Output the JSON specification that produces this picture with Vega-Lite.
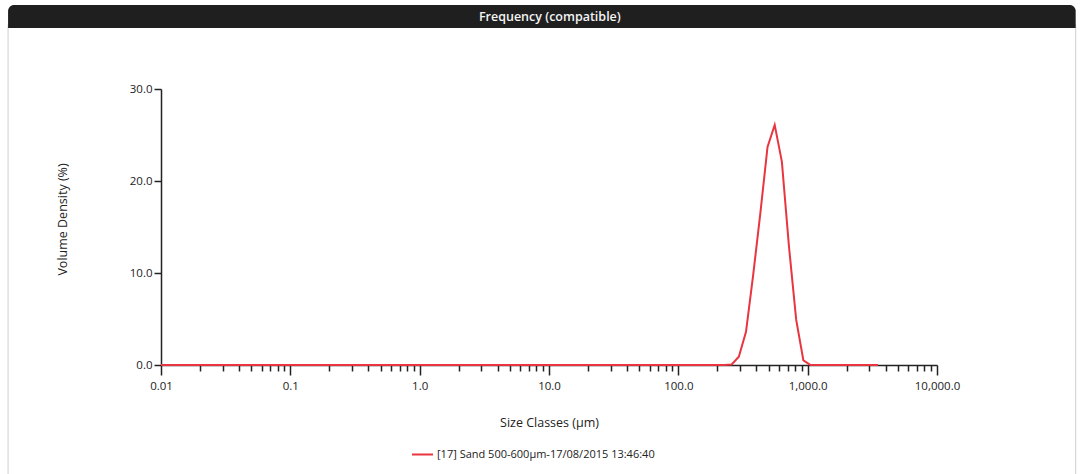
{
  "$schema": "https://vega.github.io/schema/vega-lite/v6.json",
  "width": 776,
  "height": 276,
  "autosize": {"type": "none"},
  "padding": {"left": 161, "top": 89, "right": 147, "bottom": 109},
  "background": "white",
  "config": {
    "font": "Open Sans",
    "view": {"stroke": null},
    "axis": {"grid": false, "domainColor": "#222", "tickColor": "#222", "domainWidth": 1.5, "tickWidth": 1.5, "labelColor": "#222", "titleColor": "#222", "labelFont": "Open Sans", "titleFont": "Open Sans", "titleFontWeight": "normal"}
  },
  "datasets": {
    "psd": [
      {"size": 0.01, "density": 0},
      {"size": 0.1, "density": 0},
      {"size": 1, "density": 0},
      {"size": 10, "density": 0},
      {"size": 100, "density": 0},
      {"size": 227.5, "density": 0},
      {"size": 258.4, "density": 0.05},
      {"size": 293.6, "density": 0.9},
      {"size": 333.6, "density": 3.6},
      {"size": 379.1, "density": 9.8},
      {"size": 430.7, "density": 16.5},
      {"size": 489.4, "density": 23.7},
      {"size": 556.0, "density": 26.1},
      {"size": 631.7, "density": 22.1},
      {"size": 717.7, "density": 12.8},
      {"size": 815.5, "density": 4.9},
      {"size": 926.6, "density": 0.5},
      {"size": 1052.8, "density": 0},
      {"size": 1196, "density": 0},
      {"size": 3500, "density": 0}
    ]
  },
  "layer": [
    {
      "data": {"values": [{}]},
      "mark": {"type": "rect", "filled": false, "stroke": "#cfcfcf", "strokeWidth": 1, "clip": false},
      "encoding": {
        "x": {"datum": 0.000657, "type": "quantitative"},
        "x2": {"datum": 118100},
        "y": {"datum": 37.0, "type": "quantitative"},
        "y2": {"datum": -12}
      }
    },
    {
      "data": {"values": [{}]},
      "mark": {"type": "rect", "fill": "#1f1f1f", "cornerRadiusTopLeft": 6, "cornerRadiusTopRight": 6, "clip": false},
      "encoding": {
        "x": {"datum": 0.000657, "type": "quantitative"},
        "x2": {"datum": 118100},
        "y": {"datum": 39.13, "type": "quantitative"},
        "y2": {"datum": 36.63}
      }
    },
    {
      "data": {"values": [{"label": "Frequency (compatible)"}]},
      "mark": {"type": "text", "color": "#f4f4f4", "fontSize": 12.5, "fontWeight": 600, "align": "center", "baseline": "middle", "clip": false},
      "encoding": {
        "x": {"datum": 10.15, "type": "quantitative"},
        "y": {"datum": 37.88, "type": "quantitative"},
        "text": {"field": "label"}
      }
    },
    {
      "data": {"name": "psd"},
      "mark": {"type": "line", "strokeWidth": 2, "interpolate": "linear"},
      "encoding": {
        "x": {
          "field": "size",
          "type": "quantitative",
          "scale": {"type": "log", "domain": [0.01, 10000], "nice": false},
          "axis": {
            "title": "Size Classes (µm)",
            "titleFontSize": 12.5,
            "titleY": 57,
            "titleBaseline": "middle",
            "values": [0.01, 0.02, 0.03, 0.04, 0.05, 0.06, 0.07, 0.08, 0.09,
                       0.1, 0.2, 0.3, 0.4, 0.5, 0.6, 0.7, 0.8, 0.9,
                       1, 2, 3, 4, 5, 6, 7, 8, 9,
                       10, 20, 30, 40, 50, 60, 70, 80, 90,
                       100, 200, 300, 400, 500, 600, 700, 800, 900,
                       1000, 2000, 3000, 4000, 5000, 6000, 7000, 8000, 9000,
                       10000],
            "labelExpr": "indexof([0.01, 0.1, 1, 10, 100, 1000, 10000], datum.value) < 0 ? '' : (datum.value == 0.01 ? '0.01' : format(datum.value, ',.1f'))",
            "tickSize": {"condition": {"test": "indexof([0.01, 0.1, 1, 10, 100, 1000, 10000], datum.value) >= 0", "value": 10}, "value": 6},
            "labelFontSize": 11.5,
            "labelPadding": 5,
            "labelFlush": false,
            "labelOverlap": false
          }
        },
        "y": {
          "field": "density",
          "type": "quantitative",
          "scale": {"domain": [0, 30], "nice": false, "zero": true},
          "axis": {
            "title": "Volume Density (%)",
            "titleFontSize": 12.5,
            "titleX": -99,
            "titleY": 130,
            "titleAngle": -90,
            "titleAlign": "center",
            "titleBaseline": "middle",
            "values": [0, 10, 20, 30],
            "format": ".1f",
            "tickSize": 7,
            "labelFontSize": 11.5,
            "labelPadding": 2
          }
        },
        "color": {
          "datum": "[17] Sand 500-600µm-17/08/2015 13:46:40",
          "type": "nominal",
          "scale": {"range": ["#e8353f"]},
          "legend": {
            "title": null,
            "orient": "none",
            "legendX": 250,
            "legendY": 354,
            "padding": 0,
            "symbolType": "stroke",
            "symbolStrokeWidth": 2,
            "symbolSize": 440,
            "labelFontSize": 11,
            "labelLimit": 0,
            "labelColor": "#222",
            "labelFont": "Open Sans",
            "labelOffset": 3
          }
        }
      }
    }
  ]
}
